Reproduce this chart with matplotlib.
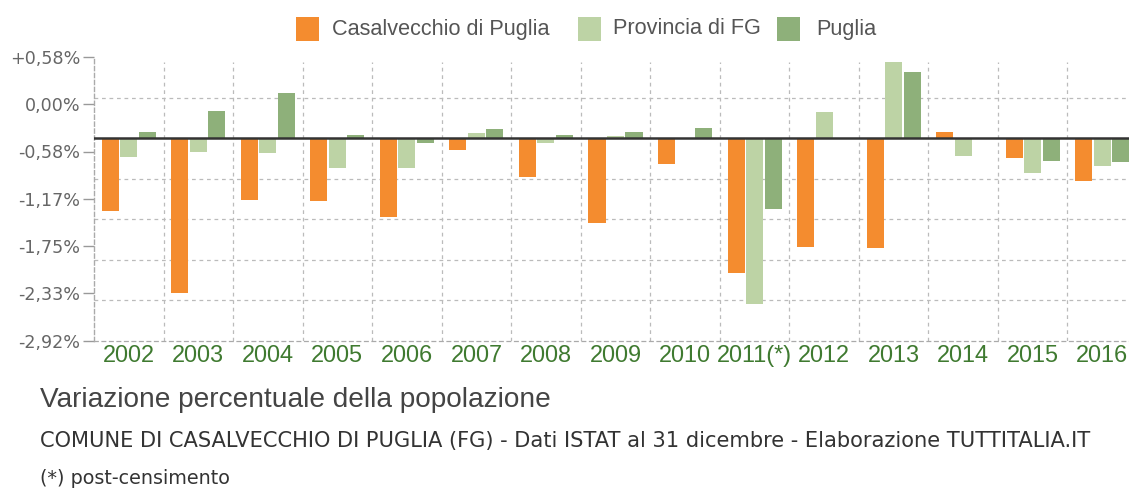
import matplotlib
matplotlib.use("Agg")
import matplotlib.pyplot as plt
from matplotlib.patches import Rectangle
import numpy as np

plt.rcParams['font.family'] = ['Liberation Sans', 'DejaVu Sans']

years = ["2002", "2003", "2004", "2005", "2006", "2007", "2008", "2009",
         "2010", "2011(*)", "2012", "2013", "2014", "2015", "2016"]
casalvecchio = [-0.90, -1.91, -0.76, -0.78, -0.98, -0.15, -0.48, -1.05,
                -0.32, -1.67, -1.35, -1.36, 0.07, -0.25, -0.53]
provincia_fg = [-0.23, -0.17, -0.19, -0.365, -0.37, 0.065, -0.06, 0.02,
                0.00, -2.05, 0.32, 0.94, -0.225, -0.43, -0.34]
puglia = [0.08, 0.33, 0.55, 0.04, -0.06, 0.11, 0.035, 0.07,
          0.126, -0.88, -0.01, 0.81, 0.00, -0.29, -0.30]
series_names = ["Casalvecchio di Puglia", "Provincia di FG", "Puglia"]
ytick_labels = ["-2,92%", "-2,33%", "-1,75%", "-1,17%", "-0,58%", "0,00%", "+0,58%"]

colors = ["#f48c2f", "#bdd3a5", "#8eb07a"]

W, H = 1129, 488
fig = plt.figure(figsize=(W / 100, H / 100), dpi=100)
fig.patch.set_facecolor("white")
renderer = fig.canvas.get_renderer()


def fit_size(s, target_px, family, base=10.0):
    t = fig.text(0, 0, s, fontsize=base, family=family)
    w = t.get_window_extent(renderer=renderer).width
    t.remove()
    return base * target_px / w


left_px, right_px, top_px, bot_px = 94, 1137, 57, 340.5
ax = fig.add_axes([left_px / W, 1 - bot_px / H, (right_px - left_px) / W, (bot_px - top_px) / H])
ax.set_facecolor("white")

n = len(years)
x = np.arange(n)
bw = 0.245
off = 0.266
for i, (vals, c) in enumerate(zip([casalvecchio, provincia_fg, puglia], colors)):
    ax.bar(x + (i - 1) * off, vals, width=bw, color=c, zorder=3, linewidth=0)

ymin, ymax = -2.5, 1.0
ax.set_ylim(ymin, ymax)
ax.set_xlim(-0.5, n - 0.5)

grid_kw = dict(color="#bbbbbb", linestyle=(0, (3, 3)), linewidth=0.9, zorder=1)
for gy in [0.5, -0.5, -1.0, -1.5, -2.0]:
    ax.axhline(gy, **grid_kw)
for gx in np.arange(0.5, n - 0.5, 1.0):
    ax.plot([gx, gx], [ymin, 0.94], **grid_kw)
ax.axhline(0, color="#333333", linewidth=1.8, zorder=4)

for s in ["top", "right"]:
    ax.spines[s].set_visible(False)
ax.spines["left"].set_color("#aaaaaa")
ax.spines["left"].set_linestyle((0, (3, 2)))
ax.spines["left"].set_linewidth(1.0)
ax.spines["bottom"].set_color("#aaaaaa")
ax.spines["bottom"].set_linestyle((0, (3, 3)))
ax.spines["bottom"].set_linewidth(0.9)

yfam = ['DejaVu Sans']
ysize = fit_size("+0,58%", 70, yfam)
yt = [ymin + k * (ymax - ymin) / 6 for k in range(7)]
ax.set_yticks(yt)
ax.set_yticklabels(ytick_labels, fontsize=ysize, color="#666666", family=yfam)
ax.tick_params(axis="y", length=8, width=1, color="#999999", pad=2)

xfam = ['Liberation Sans']
xsize = fit_size("2002", 53, xfam)
ax.set_xticks(x)
ax.set_xticklabels(years, fontsize=xsize, color="#3f7a30", family=xfam)
ax.tick_params(axis="x", length=0, pad=3)

# legend (manual)
leg_y = 1 - 29 / H
items = [(296, 332), (578, 613), (777, 816)]
lsize = fit_size(series_names[0], 219, xfam)
for (sx, tx), name, c in zip(items, series_names, colors):
    fig.patches.append(Rectangle((sx / W, 1 - 41 / H), 23 / W, 24 / H,
                                 transform=fig.transFigure, facecolor=c,
                                 edgecolor="none"))
    fig.text(tx / W, leg_y, name, fontsize=lsize, color="#555555",
             ha="left", va="center", family=xfam)

title = "Variazione percentuale della popolazione"
sub = "COMUNE DI CASALVECCHIO DI PUGLIA (FG) - Dati ISTAT al 31 dicembre - Elaborazione TUTTITALIA.IT"
foot = "(*) post-censimento"
tsize = fit_size(title, 512, xfam)
ssize = fit_size(sub, 1053, yfam)
fsize = fit_size(foot, 190, yfam)
fig.text(40 / W, 1 - 400 / H, title, fontsize=tsize, color="#444444",
         ha="left", va="center", family=xfam)
fig.text(40 / W, 1 - 441 / H, sub, fontsize=ssize, color="#333333",
         ha="left", va="center", family=yfam)
fig.text(40 / W, 1 - 478 / H, foot, fontsize=fsize, color="#333333",
         ha="left", va="center", family=yfam)

fig.savefig("out.png", dpi=100, facecolor="white")
